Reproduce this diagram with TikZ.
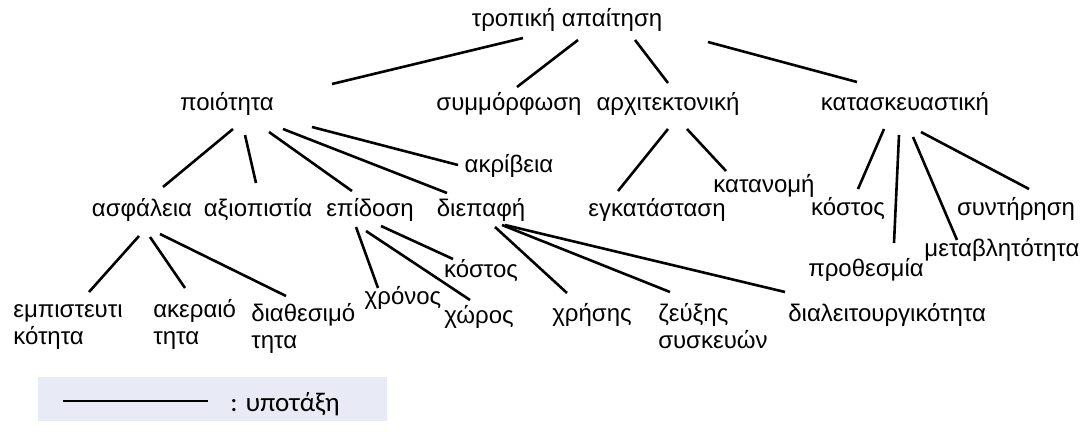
\documentclass[tikz,border=0pt]{standalone}
\usepackage{fontspec}
\setmainfont{Liberation Sans}
\newfontfamily\legendfont{Carlito}
\definecolor{legendbg}{RGB}{232,234,245}

\begin{document}
\begin{tikzpicture}[x=1pt,y=-1pt,line width=2.6pt,
  every node/.style={font=\fontsize{24}{27}\selectfont,inner sep=0pt},
  req/.style={anchor=base},
  reqleft/.style={anchor=base west,align=left}]
\useasboundingbox (0,0) rectangle (1092,431);

% levels of the tree
\path (567,26) node (tropiki) [req] {τροπική απαίτηση};
\path (227,110) node (poiotita) [req] {ποιότητα};
\path (509,110) node (symmorfosi) [req] {συμμόρφωση};
\path (668,110) node (arxitekt) [req] {αρχιτεκτονική};
\path (905,110) node (kataskeu) [req] {κατασκευαστική};
\path (509,172) node (akriveia) [req] {ακρίβεια};
\path (142,216) node (asfaleia) [req] {ασφάλεια};
\path (258,216) node (axiopist) [req] {αξιοπιστία};
\path (370,216) node (epidosi) [req] {επίδοση};
\path (481,216) node (diepafi) [req] {διεπαφή};
\path (657,216) node (egkatast) [req] {εγκατάσταση};
\path (764,192) node (katanomi) [req] {κατανομή};
\path (848,215) node (kostosk) [req] {κόστος};
\path (1016,215) node (syntirisi) [req] {συντήρηση};
\path (1002,256) node (metavlit) [req] {μεταβλητότητα};
\path (866,276) node (prothesm) [req] {προθεσμία};
\path (481,277) node (kostose) [req] {κόστος};
\path (403,304) node (xronos) [req] {χρόνος};
\path (479,323) node (xoros) [req] {χώρος};
\path (592,321) node (xrisis) [req] {χρήσης};
% two-line labels: placed at the baseline of the second line
\path (657,348) node (zeuxis) [reqleft] {ζεύξης\\συσκευών};
\path (787,321) node (dialeit) [reqleft] {διαλειτουργικότητα};
\path (12,344) node (empist) [reqleft] {εμπιστευτι\\κότητα};
\path (152,344) node (akeraio) [reqleft] {ακεραιό\\τητα};
\path (250,348) node (diathes) [reqleft] {διαθεσιμό\\τητα};

\draw ([shift={(-44,12)}]tropiki.base) -- ([shift={(105,-26)}]poiotita.base);
\draw ([shift={(11,14)}]tropiki.base) -- ([shift={(8,-23)}]symmorfosi.base);
\draw ([shift={(68,14)}]tropiki.base) -- ([shift={(0,-27)}]arxitekt.base);
\draw ([shift={(141,16)}]tropiki.base) -- ([shift={(-48,-28)}]kataskeu.base);

\draw ([shift={(6,19)}]poiotita.base) -- ([shift={(21,-29)}]asfaleia.base);
\draw ([shift={(18,25)}]poiotita.base) -- ([shift={(-2,-33)}]axiopist.base);
\draw ([shift={(42,22)}]poiotita.base) -- ([shift={(-18,-25)}]epidosi.base);
\draw ([shift={(56,19)}]poiotita.base) -- ([shift={(-34,-23)}]diepafi.base);
\draw ([shift={(85,17)}]poiotita.base) -- ([shift={(-51,-7)}]akriveia.base);

\draw ([shift={(-3,20)}]asfaleia.base) -- ([shift={(77,-52)}]empist.base west);
\draw ([shift={(8,21)}]asfaleia.base) -- ([shift={(33,-56)}]akeraio.base west);
\draw ([shift={(18,18)}]asfaleia.base) -- ([shift={(36,-52)}]diathes.base west);

\draw ([shift={(-14,11)}]epidosi.base) -- ([shift={(-25,-16)}]xronos.base);
\draw ([shift={(-4,15)}]epidosi.base) -- ([shift={(-9,-23)}]xoros.base);
\draw ([shift={(11,10)}]epidosi.base) -- ([shift={(-28,-18)}]kostose.base);

\draw ([shift={(14,11)}]diepafi.base) -- ([shift={(-25,-28)}]xrisis.base);
\draw ([shift={(21,9)}]diepafi.base) -- ([shift={(13,-56)}]zeuxis.base west);
\draw ([shift={(24,9)}]diepafi.base) -- ([shift={(-2,-29)}]dialeit.base west);

\draw ([shift={(0,19)}]arxitekt.base) -- ([shift={(-39,-25)}]egkatast.base);
\draw ([shift={(19,19)}]arxitekt.base) -- ([shift={(-38,-21)}]katanomi.base);

\draw ([shift={(-21,19)}]kataskeu.base) -- ([shift={(10,-26)}]kostosk.base);
\draw ([shift={(-6,25)}]kataskeu.base) -- ([shift={(28,-33)}]prothesm.base);
\draw ([shift={(8,27)}]kataskeu.base) -- ([shift={(-45,-16)}]metavlit.base);
\draw ([shift={(16,22)}]kataskeu.base) -- ([shift={(13,-26)}]syntirisi.base);

% legend
\fill [legendbg] (38,377) rectangle (387,421);
\coordinate (lega) at (63,401);
\coordinate (legb) at (208,401);
\draw [line width=2pt] (lega) -- (legb);
\path (285,411) node (legtext) [req,font=\legendfont\fontsize{27}{30}\selectfont] {: υποτάξη};
\end{tikzpicture}
\end{document}
